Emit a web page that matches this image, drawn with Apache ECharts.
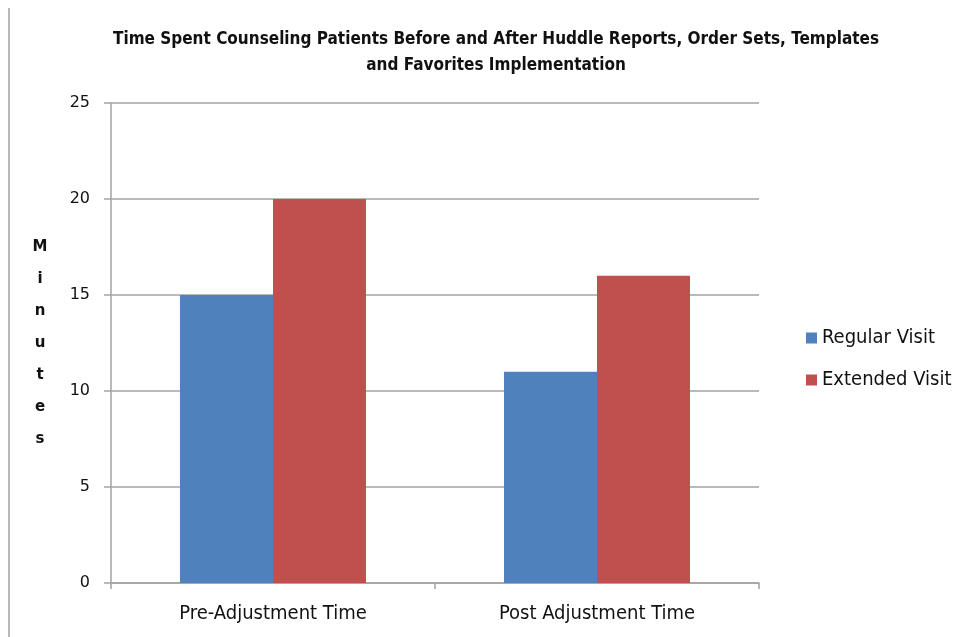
<!DOCTYPE html>
<html>
<head>
<meta charset="utf-8">
<script src="https://cdn.jsdelivr.net/npm/echarts@6/dist/echarts.min.js"></script>
<style>
  html, body { margin: 0; padding: 0; background: #fff; }
  #chart { width: 963px; height: 637px; }
</style>
</head>
<body>
<div id="chart"></div>
<script>
// Counseling time per visit type, before and after the workflow changes
const categories = ['Pre-Adjustment Time', 'Post Adjustment Time'];
const regularVisit = [15, 11];
const extendedVisit = [20, 16];
const yTicks = { min: 0, max: 25, interval: 5 };

const FONT = '"Liberation Sans Narrow", "DejaVu Sans Condensed", "Liberation Sans", sans-serif';
const GRID_GREY = '#a3a3a3';

const chart = echarts.init(document.getElementById('chart'), null, { renderer: 'canvas' });

chart.setOption({
  backgroundColor: '#ffffff',
  animation: false,
  title: {
    text: 'Time Spent Counseling Patients Before and After Huddle Reports, Order Sets, Templates\nand Favorites Implementation',
    left: 491,
    top: 22,
    textAlign: 'center',
    textStyle: {
      fontFamily: FONT,
      fontSize: 17,
      fontWeight: 'bold',
      color: '#111',
      lineHeight: 26
    }
  },
  legend: {
    orient: 'vertical',
    left: 801,
    top: 323,
    itemWidth: 11,
    itemHeight: 11,
    itemGap: 22,
    icon: 'rect',
    textStyle: { fontFamily: FONT, fontSize: 20, color: '#111' },
    data: ['Regular Visit', 'Extended Visit']
  },
  grid: { left: 111, right: 204, top: 103, bottom: 54, containLabel: false },
  xAxis: {
    type: 'category',
    data: categories,
    axisLine: { lineStyle: { color: GRID_GREY, width: 1.5 } },
    axisTick: { show: true, length: 6, lineStyle: { color: GRID_GREY, width: 1.5 } },
    axisLabel: { fontFamily: FONT, fontSize: 20, color: '#111', margin: 21 }
  },
  yAxis: {
    type: 'value',
    min: yTicks.min,
    max: yTicks.max,
    interval: yTicks.interval,
    name: 'M\ni\nn\nu\nt\ne\ns',
    nameLocation: 'middle',
    nameRotate: 0,
    nameGap: 71,
    nameTextStyle: {
      fontFamily: '"DejaVu Sans", sans-serif',
      fontSize: 15,
      fontWeight: 'bold',
      color: '#111',
      lineHeight: 32,
      align: 'center',
      verticalAlign: 'middle'
    },
    axisLine: { show: true, lineStyle: { color: GRID_GREY, width: 1.5 } },
    axisTick: { show: true, length: 7, lineStyle: { color: GRID_GREY, width: 1.5 } },
    axisLabel: { fontFamily: '"DejaVu Sans", sans-serif', fontSize: 16, color: '#111', margin: 21 },
    splitLine: { show: true, lineStyle: { color: GRID_GREY, width: 1.5 } }
  },
  series: [
    {
      name: 'Regular Visit',
      type: 'bar',
      data: regularVisit,
      barGap: '0%',
      barCategoryGap: '42.6%',
      itemStyle: { color: '#4f81bd' }
    },
    {
      name: 'Extended Visit',
      type: 'bar',
      data: extendedVisit,
      itemStyle: { color: '#c0504d' }
    }
  ],
  graphic: [
    {
      type: 'line',
      shape: { x1: 9, y1: 8, x2: 9, y2: 637 },
      style: { stroke: '#a0a0a0', lineWidth: 1.5 }
    }
  ]
});
</script>
</body>
</html>
